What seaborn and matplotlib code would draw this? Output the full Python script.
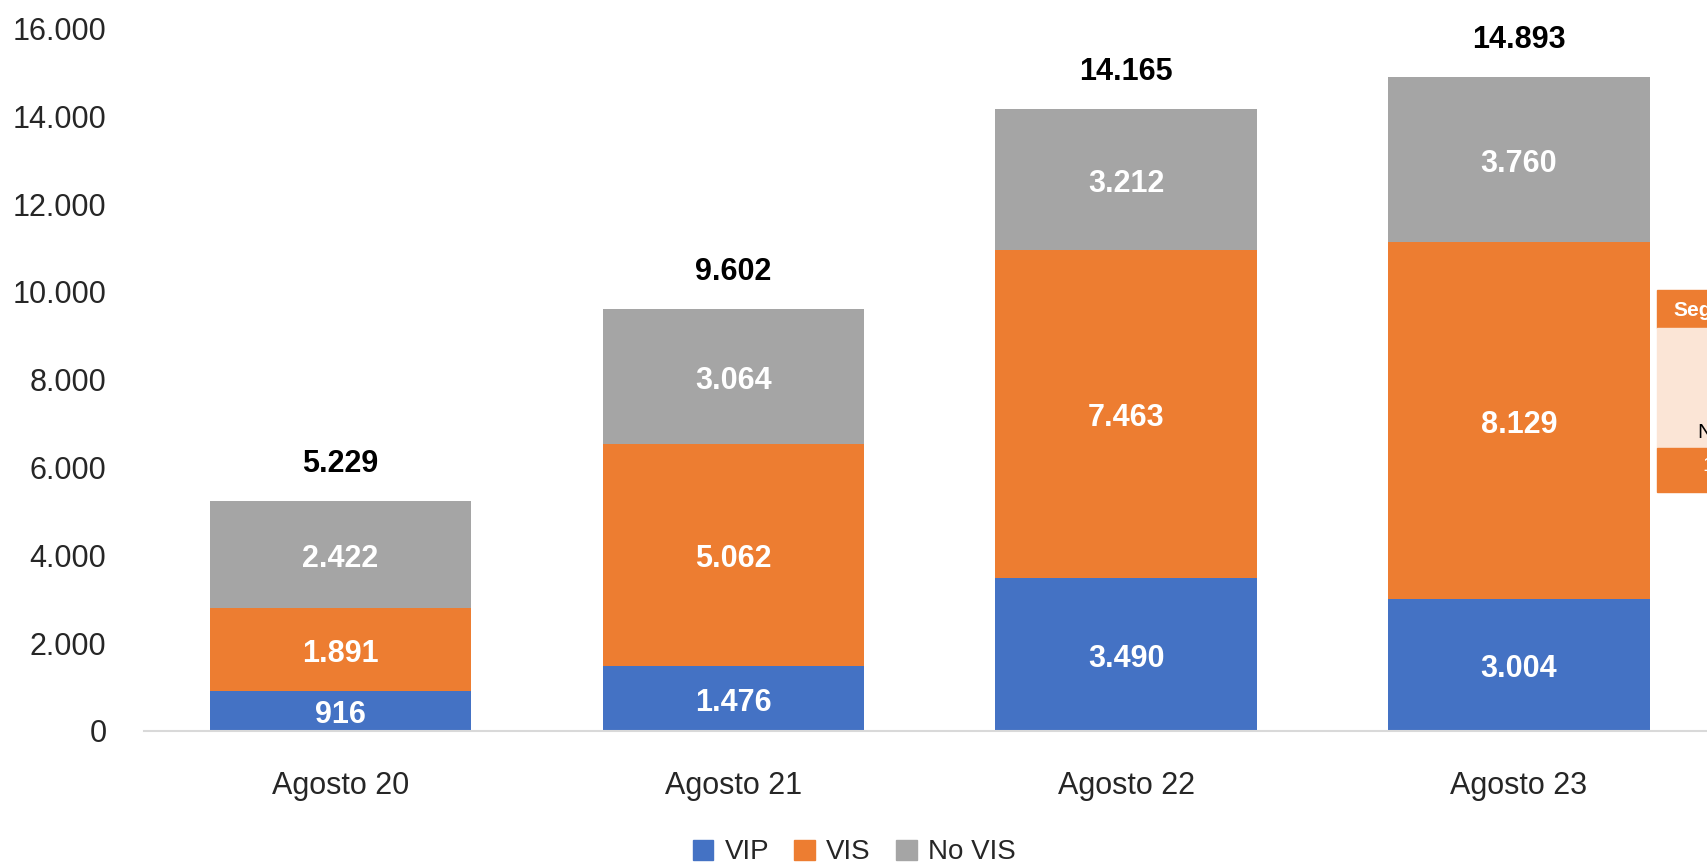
import numpy as np
import pandas as pd
import seaborn as sns
import matplotlib.pyplot as plt
from matplotlib.patches import Rectangle, Patch

# data
periods = ['Agosto 20', 'Agosto 21', 'Agosto 22', 'Agosto 23']
vip = [916, 1476, 3490, 3004]
vis = [1891, 5062, 7463, 8129]
no_vis = [2422, 3064, 3212, 3760]
totals = [5229, 9602, 14165, 14893]

colors = {'VIP': '#4472C4', 'VIS': '#ED7D31', 'No VIS': '#A5A5A5'}

sns.set_style('white')
plt.rcParams['font.family'] = ['Liberation Sans Narrow', 'Liberation Sans', 'DejaVu Sans']


def fmt(v):
    return f'{v:,}'.replace(',', '.')


df = pd.DataFrame({'period': periods, 'VIP': vip, 'VIS': vis, 'No VIS': no_vis})
df['VIP+VIS'] = df['VIP'] + df['VIS']
df['all'] = df['VIP+VIS'] + df['No VIS']

fig = plt.figure(figsize=(17.08, 8.68), dpi=100)
ax = fig.add_axes([0.0843, 0.158, 0.92, 0.809])

# stack by overlaying cumulative heights
for col, c in [('all', colors['No VIS']), ('VIP+VIS', colors['VIS']), ('VIP', colors['VIP'])]:
    sns.barplot(data=df, x='period', y=col, color=c, width=0.665,
                saturation=1, linewidth=0, ax=ax)

ax.set_ylim(0, 16000)
ax.set_xlim(-0.5, 3.5)
ax.set_yticks(range(0, 16001, 2000))
ax.set_yticklabels([fmt(t) for t in range(0, 16001, 2000)])
ax.set_xlabel('')
ax.set_ylabel('')
ax.tick_params(axis='y', labelsize=22, pad=27, length=0)
ax.tick_params(axis='x', labelsize=22, pad=29, length=0)
for s in ['top', 'right', 'left']:
    ax.spines[s].set_visible(False)
ax.spines['bottom'].set_color('#D9D9D9')
ax.spines['bottom'].set_linewidth(1.5)

for i in range(len(periods)):
    ax.text(i, vip[i] / 2 - 100, fmt(vip[i]), ha='center', va='center', color='white',
            fontsize=22, fontweight='bold')
    ax.text(i, vip[i] + vis[i] / 2 - 100, fmt(vis[i]), ha='center', va='center',
            color='white', fontsize=22, fontweight='bold')
    ax.text(i, vip[i] + vis[i] + no_vis[i] / 2 - 100, fmt(no_vis[i]), ha='center',
            va='center', color='white', fontsize=22, fontweight='bold')
    ax.text(i, totals[i] + 850, fmt(totals[i]), ha='center', va='center',
            color='black', fontsize=22, fontweight='bold')

handles = [Patch(color=colors[k]) for k in ['VIP', 'VIS', 'No VIS']]
fig.legend(handles, ['VIP', 'VIS', 'No VIS'], loc='center', bbox_to_anchor=(0.5, 0.018),
           ncol=3, frameon=False, fontsize=20, handlelength=0.75, handleheight=0.75,
           handletextpad=0.4, columnspacing=0.9)

# cut-off side box at the right edge, as in the source
W, H = 1708, 868
def frect(x0, y0, x1, y1, c):
    fig.patches.append(Rectangle((x0 / W, 1 - y1 / H), (x1 - x0) / W, (y1 - y0) / H,
                                 transform=fig.transFigure, color=c, zorder=5))
frect(1657, 290, 1708, 328, '#ED7D31')
frect(1657, 328, 1708, 448, '#FBE5D6')
frect(1657, 448, 1708, 492, '#ED7D31')
fig.text(1673 / W, 1 - 310 / H, 'Segmento', color='white', fontsize=15,
         fontweight='bold', va='center', ha='left', zorder=6)
fig.text(1697 / W, 1 - 433 / H, 'N', color='black', fontsize=15,
         va='center', ha='left', zorder=6)
fig.text(1702 / W, 1 - 466 / H, '1', color='white', fontsize=15,
         va='center', ha='left', zorder=6)

fig.savefig('out.png', dpi=100)
